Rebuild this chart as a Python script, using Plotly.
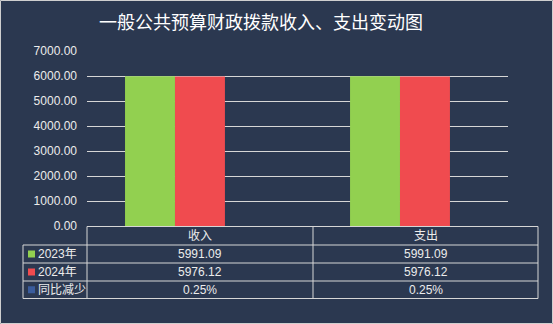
import plotly.graph_objects as go

categories = ["收入", "支出"]
series_names = ["2023年", "2024年", "同比减少"]
values_2023 = [5991.09, 5991.09]
values_2024 = [5976.12, 5976.12]
change_labels = ["0.25%", "0.25%"]
y_ticks = [0, 1000, 2000, 3000, 4000, 5000, 6000, 7000]

W, H = 553, 324
L, R, T, B = 87, 45, 51, 98
PW, PH = W - L - R, H - T - B

BG = "#2b3850"
GREEN = "#92d050"
RED = "#f04b4f"
BLUE = "#3a5c9c"
LINE = "#d6d6d6"
TXT = "#ececec"
FONT = "Liberation Sans, Arial, Noto Sans CJK SC"


def px(x):
    return (x - L) / PW


def py(y):
    return (T + PH - y) / PH


fig = go.Figure()
fig.add_trace(go.Bar(x=categories, y=values_2023, name=series_names[0],
                     marker=dict(color=GREEN, line=dict(width=0))))
fig.add_trace(go.Bar(x=categories, y=values_2024, name=series_names[1],
                     marker=dict(color=RED, line=dict(width=0))))

shapes = []
annotations = []


def hline(x0, x1, y):
    shapes.append(dict(type="line", xref="paper", yref="paper", x0=px(x0), x1=px(x1),
                       y0=py(y), y1=py(y), line=dict(color=LINE, width=1), layer="above"))


def vline(x, y0, y1):
    shapes.append(dict(type="line", xref="paper", yref="paper", x0=px(x), x1=px(x),
                       y0=py(y0), y1=py(y1), line=dict(color=LINE, width=1), layer="above"))


def label(x, y, text, size=12, color=TXT, xanchor="center"):
    annotations.append(dict(x=px(x), y=py(y), xref="paper", yref="paper",
                            xanchor=xanchor, yanchor="middle", text=text, showarrow=False,
                            font=dict(size=size, color=color, family=FONT)))


# outer image border
shapes.append(dict(type="rect", xref="paper", yref="paper", x0=px(0.5), x1=px(552.5),
                   y0=py(0.5), y1=py(323.5), line=dict(color="#cfcfcf", width=1)))

# table grid
row_y = [226.5, 245, 263, 281, 298.5]
col_x = [23, 87, 313, 538]
hline(col_x[1], col_x[3], row_y[0])
for yy in row_y[1:]:
    hline(col_x[0], col_x[3], yy)
vline(col_x[0], row_y[1], row_y[4])
for xx in col_x[1:]:
    vline(xx, row_y[0], row_y[4])

# header
for i, c in enumerate(categories):
    cx = (col_x[1 + i] + col_x[2 + i]) / 2
    label(cx, (row_y[0] + row_y[1]) / 2, c)

rows = [
    [f"{v:.2f}" for v in values_2023],
    [f"{v:.2f}" for v in values_2024],
    change_labels,
]
sq_colors = [GREEN, RED, BLUE]
for r in range(3):
    yc = (row_y[r + 1] + row_y[r + 2]) / 2
    shapes.append(dict(type="rect", xref="paper", yref="paper", x0=px(28), x1=px(35),
                       y0=py(yc - 3.5), y1=py(yc + 3.5), fillcolor=sq_colors[r], line=dict(width=0)))
    label(35.5, yc, series_names[r], xanchor="left")
    for i in range(2):
        cx = (col_x[1 + i] + col_x[2 + i]) / 2
        label(cx, yc, rows[r][i])

# title
label(261, 23, "一般公共预算财政拨款收入、支出变动图", size=18, color="#ffffff")

fig.update_layout(
    width=W, height=H,
    margin=dict(l=L, r=R, t=T, b=B, pad=0),
    paper_bgcolor=BG, plot_bgcolor=BG,
    barmode="group", bargap=0.556, bargroupgap=0,
    showlegend=False,
    shapes=shapes, annotations=annotations,
    font=dict(family=FONT, color=TXT, size=12),
    xaxis=dict(range=[-0.391, 1.48], showticklabels=False, showgrid=False,
               zeroline=False, showline=False, fixedrange=True),
    yaxis=dict(range=[0, 7000], tickvals=y_ticks, tickformat=".2f",
               showgrid=True, gridcolor=LINE, gridwidth=1, zeroline=False,
               showline=False, ticks="", ticklabelstandoff=9,
               tickfont=dict(size=12, color=TXT, family=FONT)),
)

fig.write_html("out.html")
